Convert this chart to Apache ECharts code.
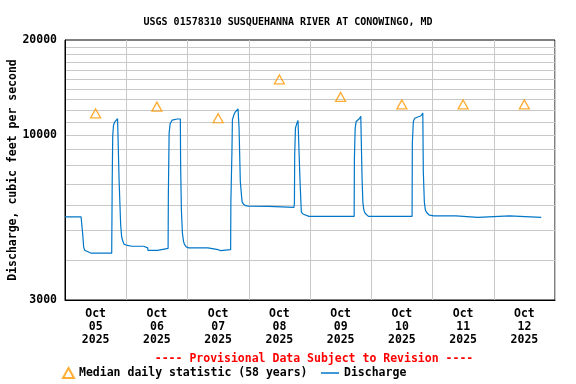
<!DOCTYPE html>
<html>
<head>
<meta charset="utf-8">
<script src="https://cdn.jsdelivr.net/npm/echarts@6/dist/echarts.min.js"></script>
<style>
html,body{margin:0;padding:0;background:#fff;}
#chart{width:576px;height:384px;}
</style>
</head>
<body>
<div id="chart"></div>
<script>
// ---- data ----
const titleText = 'USGS 01578310 SUSQUEHANNA RIVER AT CONOWINGO, MD';
const yAxisName = 'Discharge, cubic feet per second';
const provisionalText = '---- Provisional Data Subject to Revision ----';
const monthLabel = 'Oct';
const yearLabel = '2025';
const dayLabels = ['05', '06', '07', '08', '09', '10', '11', '12'];
const dayLabelHours = [12, 36, 60, 84, 108, 132, 156, 180];
const yTickLabels = [3000, 10000, 20000];
const yGridValues = [4000, 5000, 6000, 7000, 8000, 9000, 10000, 11000, 12000, 13000, 14000, 15000, 16000, 17000, 18000, 19000];

// hours since Oct 05 2025 00:00
const dischargeHours = [
  0, 6.3, 6.9, 7.0, 7.3, 7.7, 8.2, 10.3, 18.3, 18.5, 18.7, 19.0, 19.4, 20.0, 20.6, 21.0,
  21.2, 21.8, 22.2, 22.6, 23.1, 24.0, 26.2, 30.8, 30.9, 32.4, 32.5, 36.3, 36.4, 40.4,
  40.5, 40.8, 41.2, 42.0, 44.0, 45.2, 45.3, 45.6, 46.0, 46.4, 46.8, 47.5, 48.5, 56.0,
  56.1, 60.0, 60.1, 61.0, 61.1, 64.9, 65.0, 65.4, 65.6, 66.2, 66.6, 67.1, 67.8, 68.1,
  68.2, 68.7, 69.2, 69.4, 70.0, 70.8, 72.0, 80.0, 80.1, 89.7, 89.9, 90.0, 90.3, 90.8,
  91.3, 92.0, 92.1, 92.6, 93.2, 93.9, 95.6, 113.3, 113.4, 113.7, 114.1, 114.6, 115.3,
  115.9, 116.3, 116.4, 116.7, 117.1, 117.6, 118.2, 118.9, 136.0, 136.1, 136.5, 137.0,
  137.7, 139.5, 140.2, 140.4, 140.8, 141.2, 141.7, 142.1, 142.8, 144.5, 153.2, 153.3,
  161.8, 161.9, 174.2, 174.3, 186.6
];
const dischargeValues = [
  5500, 5500, 5500, 4790, 4420, 4313, 4261, 4221, 4221, 7150, 9940, 10720, 10990, 11120, 11260, 11300,
  7150, 5210, 4760, 4620, 4510, 4480, 4440, 4440, 4390, 4390, 4310, 4310, 4370, 4370,
  6490, 10140, 10860, 11150, 11240, 11240, 8100, 5810, 4900, 4620, 4500, 4420, 4390, 4390,
  4330, 4330, 4300, 4300, 4330, 4330, 6140, 8760, 11180, 11600, 11790, 11940, 12090, 12090,
  10520, 7110, 6380, 6140, 6030, 5970, 5950, 5940, 5900, 5900, 6080, 8650, 10520, 10860,
  11120, 11120, 7110, 5710, 5620, 5550, 5520, 5520, 8440, 10520, 11040, 11180, 11260,
  11460, 11460, 7290, 6140, 5780, 5650, 5570, 5520, 5520, 9430, 11040, 11300,
  11460, 11510, 11740, 7650, 6140, 5780, 5680, 5620, 5570, 5540, 5540, 5480,
  5480, 5540, 5540, 5480, 5480
];

const medianHours = [12, 36, 60, 84, 108, 132, 156, 180];
const medianValues = [11700, 12300, 11300, 15000, 13200, 12500, 12500, 12500];

// ---- chart ----
const FONT = '"DejaVu Sans Mono", "Liberation Mono", monospace';
const chart = echarts.init(document.getElementById('chart'), null, { renderer: 'canvas' });

const option = {
  backgroundColor: '#ffffff',
  animation: false,
  title: [
    {
      text: titleText,
      left: 'center',
      top: 12,
      textStyle: { fontFamily: FONT, fontSize: 10, fontWeight: 'bold', color: '#000' }
    },
    {
      text: provisionalText,
      left: 309,
      textAlign: 'center',
      top: 348,
      textStyle: { fontFamily: FONT, fontSize: 11.5, fontWeight: 'bold', color: '#ff0000' }
    }
  ],
  legend: [
    {
      data: [{ name: 'Median daily statistic (58 years)', icon: 'triangle' }],
      left: 57,
      top: 362,
      itemWidth: 11,
      itemHeight: 10,
      itemGap: 0,
      textStyle: { fontFamily: FONT, fontSize: 11.5, fontWeight: 'bold', color: '#000' }
    },
    {
      data: [{ name: 'Discharge', icon: 'rect' }],
      left: 316,
      top: 362,
      itemWidth: 18,
      itemHeight: 1.5,
      textStyle: { fontFamily: FONT, fontSize: 11.5, fontWeight: 'bold', color: '#000' }
    }
  ],
  grid: {
    left: 65,
    right: 21,
    top: 40,
    height: 260,
    outerBoundsMode: 'none',
    containLabel: false,
    show: true,
    borderColor: '#000',
    borderWidth: 1,
    backgroundColor: 'transparent'
  },
  xAxis: {
    type: 'value',
    min: 0,
    max: 192,
    interval: 24,
    axisLine: { show: true, lineStyle: { color: '#000', width: 1 } },
    axisTick: { show: false },
    splitLine: { show: true, lineStyle: { color: '#c8c8c8', width: 1 } },
    axisLabel: {
      customValues: dayLabelHours,
      margin: 8,
      lineHeight: 13,
      fontFamily: FONT,
      fontSize: 11.5,
      fontWeight: 'bold',
      color: '#000',
      formatter: function (v) {
        const i = dayLabelHours.indexOf(Math.round(v));
        return monthLabel + '\n' + (i >= 0 ? dayLabels[i] : '') + '\n' + yearLabel;
      }
    }
  },
  yAxis: {
    type: 'log',
    logBase: 10,
    min: 3000,
    max: 20000,
    name: yAxisName,
    nameLocation: 'middle',
    nameGap: 46,
    nameMoveOverlap: false,
    nameRotate: 90,
    nameTextStyle: { fontFamily: FONT, fontSize: 11.5, fontWeight: 'bold', color: '#000' },
    axisLine: { show: true, lineStyle: { color: '#000', width: 1 } },
    axisTick: { show: false, customValues: yGridValues },
    splitLine: { show: true, lineStyle: { color: '#c8c8c8', width: 1 } },
    axisLabel: {
      customValues: yTickLabels,
      margin: 8,
      fontFamily: FONT,
      fontSize: 11.5,
      fontWeight: 'bold',
      color: '#000',
      formatter: function (v) { return String(Math.round(v)); }
    }
  },
  series: [
    {
      name: 'Median daily statistic (58 years)',
      type: 'scatter',
      symbol: 'triangle',
      symbolSize: [10, 9],
      data: medianHours.map((h, i) => [h, medianValues[i]]),
      itemStyle: { color: 'rgba(0,0,0,0)', borderColor: '#ff9900', borderWidth: 1.3 },
      z: 3
    },
    {
      name: 'Discharge',
      type: 'line',
      symbol: 'none',
      showSymbol: false,
      data: dischargeHours.map((h, i) => [h, dischargeValues[i]]),
      lineStyle: { color: '#0077c8', width: 1.2 },
      itemStyle: { color: '#0077c8' },
      z: 2
    }
  ]
};
chart.setOption(option);
</script>
</body>
</html>
